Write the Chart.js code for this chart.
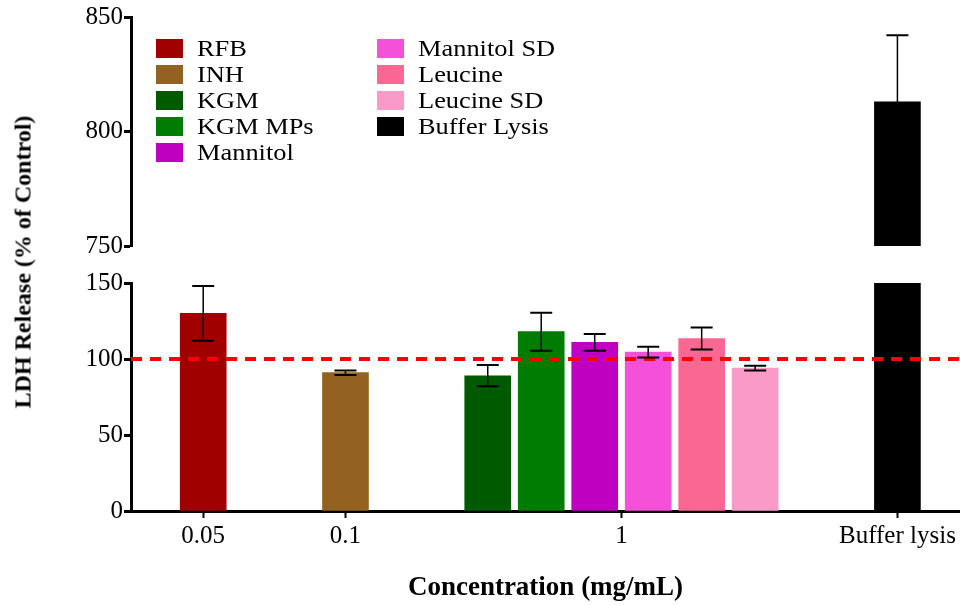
<!DOCTYPE html>
<html>
<head>
<meta charset="utf-8">
<script src="https://cdn.jsdelivr.net/npm/chart.js@4.4.1/dist/chart.umd.min.js"></script>
<style>
  html, body { margin: 0; padding: 0; background: #fff; }
  #wrap { position: relative; width: 960px; height: 605px; font-family: "Liberation Serif", "Times New Roman", serif; color: #000; }
  #wrap canvas { position: absolute; left: 0; top: 0; }
  #ytitle {
    position: absolute; left: 23px; top: 262px;
    transform: translate(-50%, -50%) rotate(-90deg);
    white-space: nowrap; font-weight: bold; font-size: 24px;
  }
  #legend {
    position: absolute; left: 156px; top: 35px;
    display: grid; grid-auto-flow: column;
    grid-template-rows: repeat(5, 26px);
    grid-template-columns: 221px auto;
    font-size: 24px; line-height: 26px;
  }
  #legend .item { display: flex; align-items: center; white-space: nowrap; }
  #legend .swatch { width: 27px; height: 19px; margin-right: 14px; flex: none; }
  #legend .name { display: inline-block; transform: scaleX(1.1); transform-origin: left center; }
</style>
</head>
<body>
<div id="wrap">
  <canvas id="upper" width="960" height="605"></canvas>
  <canvas id="lower" width="960" height="605"></canvas>
  <div id="ytitle">LDH Release (% of Control)</div>
  <div id="legend"></div>
</div>
<script>
// --- data ---
const groupLabels = ['0.05', '0.1', '1', 'Buffer lysis'];
const seriesNames = ['RFB', 'INH', 'KGM', 'KGM MPs', 'Mannitol', 'Mannitol SD', 'Leucine', 'Leucine SD', 'Buffer Lysis'];
const seriesGroup = [0, 1, 2, 2, 2, 2, 2, 2, 3];
const meanValues = [130, 91, 89, 118, 111, 104.5, 113.5, 94, 813];
const sdValues = [18, 1.5, 7, 12.5, 5.5, 3.5, 7.3, 1.5, 29];
const controlLevel = 100;
const upperRange = [750, 850];
const lowerRange = [0, 150];

// --- styles ---
const barColors = ['#a00000', '#946220', '#005a00', '#007d00', '#c000c0', '#f551d8', '#fb6793', '#f99ac9', '#000000'];
const FONT = "'Liberation Serif', 'Times New Roman', serif";

// bar slots along x: 1 unit between bars of a group, wider gap between groups
const FIRST_SLOT = 1.35, GROUP_GAP = 2.66, AXIS_SPAN = 15.5;
const slots = [];
seriesGroup.forEach((g, i) => {
    if (i === 0) slots.push(FIRST_SLOT);
    else slots.push(slots[i - 1] + (g === seriesGroup[i - 1] ? 1 : GROUP_GAP));
});
const tickSlots = groupLabels.map((_, g) => {
    const xs = slots.filter((_, i) => seriesGroup[i] === g);
    return (Math.min(...xs) + Math.max(...xs)) / 2;
});

function barDatasets() {
    return seriesNames.map((name, i) => ({
        type: 'bar',
        label: name,
        data: [{ x: slots[i], y: meanValues[i] }],
        backgroundColor: barColors[i],
        borderWidth: 0,
        barThickness: 46,
        grouped: false,
        clip: 0,
        order: 1
    }));
}

// mean +/- SD whiskers, clipped to the plot area of each half
const errorBars = {
    id: 'errorBars',
    afterDatasetsDraw(chart) {
        const { ctx, chartArea: a, scales: { y } } = chart;
        ctx.save();
        ctx.beginPath();
        ctx.rect(a.left, a.top, a.right - a.left, a.bottom - a.top);
        ctx.clip();
        ctx.strokeStyle = '#000';
        seriesNames.forEach((_, i) => {
            const bar = chart.getDatasetMeta(i).data[0];
            if (!bar) return;
            const hi = y.getPixelForValue(meanValues[i] + sdValues[i]);
            const lo = y.getPixelForValue(meanValues[i] - sdValues[i]);
            ctx.lineWidth = 1.5;
            ctx.beginPath();
            ctx.moveTo(bar.x, hi);
            ctx.lineTo(bar.x, lo);
            ctx.stroke();
            ctx.lineWidth = 2;
            ctx.beginPath();
            ctx.moveTo(bar.x - 11, hi); ctx.lineTo(bar.x + 11, hi);
            ctx.moveTo(bar.x - 11, lo); ctx.lineTo(bar.x + 11, lo);
            ctx.stroke();
        });
        ctx.restore();
    }
};

function yAxis(range) {
    return {
        min: range[0],
        max: range[1],
        afterFit(scale) { scale.width = 131; },
        border: { display: true, color: '#000', width: 3 },
        grid: { drawOnChartArea: false, drawTicks: true, tickLength: 7, tickWidth: 3, tickColor: '#000' },
        ticks: { stepSize: 50, color: '#000', padding: 1, font: { family: FONT, size: 25 } }
    };
}

function xAxis(show) {
    return {
        type: 'linear',
        min: 0,
        max: AXIS_SPAN,
        offset: false,
        display: show,
        afterFit(scale) { if (show) scale.height = 94; },
        afterBuildTicks(scale) { scale.ticks = tickSlots.map(v => ({ value: v })); },
        border: { display: true, color: '#000', width: 3 },
        grid: { offset: false, drawOnChartArea: false, drawTicks: true, tickLength: 7, tickWidth: 2, tickColor: '#000' },
        ticks: {
            color: '#000', padding: 3, maxRotation: 0, autoSkip: false,
            font: { family: FONT, size: 25 },
            callback: (v, idx) => groupLabels[idx]
        },
        title: {
            display: true, text: 'Concentration (mg/mL)', color: '#000',
            font: { family: FONT, size: 27, weight: 'bold' },
            padding: { top: 0, bottom: 1 }
        }
    };
}

const common = {
    responsive: false,
    animation: false,
    events: [],
    plugins: { legend: { display: false }, tooltip: { enabled: false } }
};

// upper half of the broken axis: 750-850
new Chart(document.getElementById('upper'), {
    type: 'bar',
    data: { datasets: barDatasets() },
    options: Object.assign({}, common, {
        layout: { padding: { top: 17, bottom: 359, left: 0, right: 0 } },
        scales: { x: xAxis(false), y: yAxis(upperRange) }
    }),
    plugins: [errorBars]
});

// lower half: 0-150, with the control level line
const lowerSets = barDatasets();
lowerSets.push({
    type: 'line',
    label: 'Control',
    data: [{ x: 0, y: controlLevel }, { x: AXIS_SPAN, y: controlLevel }],
    borderColor: '#ff0000',
    borderWidth: 4,
    borderDash: [11, 8],
    pointRadius: 0,
    order: 0
});
const lowerChart = new Chart(document.getElementById('lower'), {
    type: 'bar',
    data: { datasets: lowerSets },
    options: Object.assign({}, common, {
        layout: { padding: { top: 283, bottom: 0, left: 0, right: 0 } },
        scales: { x: xAxis(true), y: yAxis(lowerRange) }
    }),
    plugins: [errorBars]
});

// legend, two columns
const legendEl = document.getElementById('legend');
lowerChart.data.datasets.filter(d => d.type === 'bar').forEach(d => {
    const item = document.createElement('div');
    item.className = 'item';
    const sw = document.createElement('span');
    sw.className = 'swatch';
    sw.style.background = d.backgroundColor;
    const name = document.createElement('span');
    name.className = 'name';
    name.textContent = d.label;
    item.appendChild(sw);
    item.appendChild(name);
    legendEl.appendChild(item);
});
</script>
</body>
</html>
